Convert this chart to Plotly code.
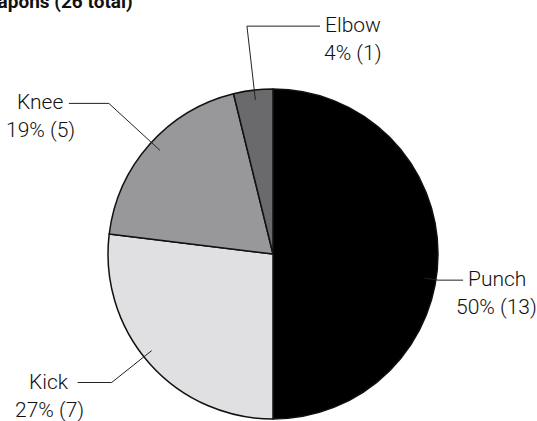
import math
import plotly.graph_objects as go

# ---- data ----
labels = ["Punch", "Kick", "Knee", "Elbow"]
values = [13, 7, 5, 1]
colors = ["#000000", "#e0e0e2", "#98989b", "#6a6a6d"]
title_text = "Weapons (26 total)"

# ---- layout / style constants (pixels) ----
W, H = 537, 421
CX, CY, R = 273, 254, 165
angle_shift = [9, 3, 1, 0.4]        # leader-line angle tweak (deg)
start_rad = [0.93, 0.94, 0.93, 0.94]
bend_rad = [1.013, 1.25, 1.35, 1.39]
hline_len = [25, 34, 40, 73]
label_side = [1, -1, -1, 1]         # +1: label to the right, -1: to the left
FONT = "Roboto, sans-serif"
FS = 21

total = sum(values)
fig = go.Figure()
fig.add_trace(go.Pie(
    labels=labels, values=values, sort=False, direction="clockwise", rotation=0,
    marker=dict(colors=colors, line=dict(color="#111111", width=1.5)),
    textinfo="none", hoverinfo="skip", showlegend=False,
    domain=dict(x=[(CX - R) / W, (CX + R) / W], y=[(H - CY - R) / H, (H - CY + R) / H]),
))

def pt(ang, rad):
    a = math.radians(ang)
    return CX + rad * R * math.sin(a), CY - rad * R * math.cos(a)

shapes, annotations = [], []
cum = 0
for i, (lab, v) in enumerate(zip(labels, values)):
    mid = (cum + v / 2) / total * 360
    cum += v
    ang = mid + angle_shift[i]
    x0, y0 = pt(ang, start_rad[i])
    x1, y1 = pt(ang, bend_rad[i])
    side = label_side[i]
    x2 = x1 + side * hline_len[i]
    shapes.append(dict(type="path", xref="x", yref="y",
                       path=f"M{x0},{y0} L{x1},{y1} L{x2},{y1}",
                       line=dict(color="#222222", width=1)))
    cxl = x2 + side * (9 + len(lab) * 4.9)
    pct = round(v / total * 100)
    fnt = dict(family=FONT, size=FS, color="#111111", weight=300)
    annotations.append(dict(x=cxl / W, y=1 - (y1 - 1) / H, xref="paper", yref="paper", text=lab,
                            showarrow=False, xanchor="center", yanchor="middle", font=fnt))
    annotations.append(dict(x=cxl / W, y=1 - (y1 + 27) / H, xref="paper", yref="paper",
                            text=f"{pct}% ({v})", showarrow=False,
                            xanchor="center", yanchor="middle", font=fnt))

annotations.append(dict(x=-31 / W, y=1 - 1.5 / H, xref="paper", yref="paper",
                        text=f"<b>{title_text}</b>", showarrow=False,
                        xanchor="left", yanchor="middle",
                        font=dict(family=FONT, size=19, color="#111111")))

fig.update_layout(
    width=W, height=H, margin=dict(l=0, r=0, t=0, b=0),
    paper_bgcolor="white", plot_bgcolor="rgba(0,0,0,0)",
    xaxis=dict(range=[0, W], visible=False, domain=[0, 1], fixedrange=True),
    yaxis=dict(range=[H, 0], visible=False, domain=[0, 1], fixedrange=True),
    shapes=shapes, annotations=annotations,
)
fig.write_html("out.html")
